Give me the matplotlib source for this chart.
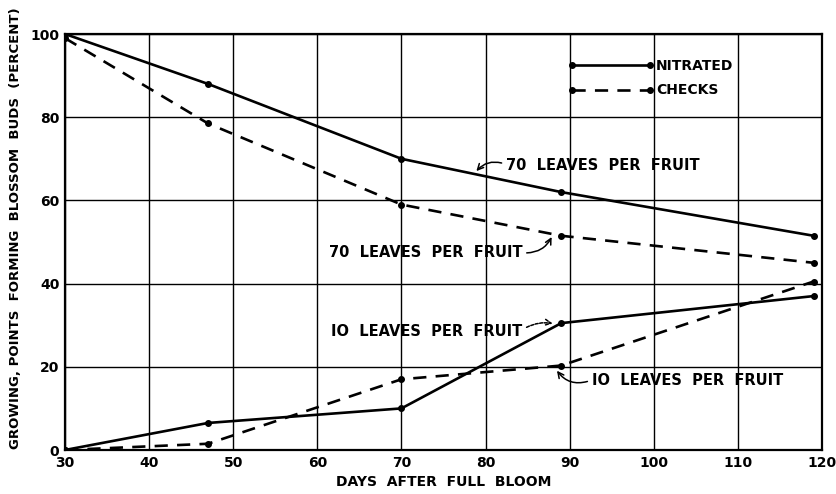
import matplotlib
matplotlib.use("Agg")
import matplotlib.pyplot as plt
from matplotlib.lines import Line2D

days = [30, 47, 70, 89, 119]
nitrated_70 = [100, 88, 70, 62, 51.5]
checks_70 = [99, 78.5, 59, 51.5, 45]
nitrated_10 = [0, 6.5, 10, 30.5, 37]
checks_10 = [0, 1.5, 17, 20.3, 40.5]

x_ticks = [30, 40, 50, 60, 70, 80, 90, 100, 110, 120]
y_ticks = [0, 20, 40, 60, 80, 100]

plt.rcParams['font.family'] = ['DejaVu Sans']
fw = 'bold'
fs = 9.5

fig = plt.figure(figsize=(8.36, 4.94), dpi=100)
ax = fig.add_axes([65/836, 1-450/494, 757/836, 416/494])

dash = (0, (5, 3.5))
for ys in (nitrated_70, nitrated_10):
    ax.plot(days, ys, color='black', lw=1.9, marker='o', ms=4, zorder=3)
for ys in (checks_70, checks_10):
    ax.plot(days, ys, color='black', lw=1.9, ls=dash, marker='o', ms=4, zorder=3)

ax.set_xlim(30, 120)
ax.set_ylim(0, 100)
ax.set_xticks(x_ticks)
ax.set_yticks(y_ticks)
ax.set_xticklabels([str(v) for v in x_ticks], fontsize=fs+0.5, fontweight=fw)
ax.set_yticklabels([str(v) for v in y_ticks], fontsize=fs+0.5, fontweight=fw)
ax.tick_params(length=0, pad=4)
ax.grid(True, color='black', lw=1.0)
for s in ax.spines.values():
    s.set_linewidth(1.6)

ax.set_xlabel("DAYS  AFTER  FULL  BLOOM", fontsize=fs+0.5, fontweight=fw, labelpad=4)
ax.set_ylabel("GROWING, POINTS  FORMING  BLOSSOM  BUDS  (PERCENT)", fontsize=fs, fontweight=fw)
ax.yaxis.set_label_coords((22-65)/757, (450-228)/416)

tkw = dict(fontsize=10.5, fontweight=fw, va='center')
ax.annotate("70  LEAVES  PER  FRUIT", xy=(78.8, 66.8), xytext=(82.4, 68.5), ha='left',
            arrowprops=dict(arrowstyle='->', color='black', lw=1.1, relpos=(0, 0.55),
                            shrinkA=1, shrinkB=1,
                            connectionstyle='arc3,rad=0.35'), **tkw)
ax.annotate("70  LEAVES  PER  FRUIT", xy=(88.0, 51.8), xytext=(84.4, 47.4), ha='right',
            arrowprops=dict(arrowstyle='->', color='black', lw=1.1, relpos=(1, 0.5),
                            shrinkA=1, shrinkB=2,
                            connectionstyle='arc3,rad=0.35'), **tkw)
ax.annotate("IO  LEAVES  PER  FRUIT", xy=(88.3, 30.3), xytext=(84.4, 28.6), ha='right',
            arrowprops=dict(arrowstyle='->', color='black', lw=1.1, ls=(0, (2, 1)),
                            relpos=(1, 0.6), shrinkA=1, shrinkB=2,
                            connectionstyle='arc3,rad=-0.2'), **tkw)
ax.annotate("IO  LEAVES  PER  FRUIT", xy=(88.3, 19.6), xytext=(92.6, 16.8), ha='left',
            arrowprops=dict(arrowstyle='->', color='black', lw=1.1, relpos=(0, 0.5),
                            shrinkA=1, shrinkB=2,
                            connectionstyle='arc3,rad=-0.4'), **tkw)

handles = [Line2D([0], [0], color='black', lw=1.9, marker='o', ms=4),
           Line2D([0], [0], color='black', lw=1.9, ls=dash, marker='o', ms=4)]
leg = ax.legend(handles, ["NITRATED", "CHECKS"], loc='upper left',
                bbox_to_anchor=((568-65)/757, (450-59)/416), frameon=False,
                numpoints=2, handlelength=6.2, handletextpad=0.15,
                borderpad=0, borderaxespad=0, labelspacing=0.75,
                prop=dict(size=fs+0.5, weight=fw))

fig.savefig("out.png", dpi=100)
